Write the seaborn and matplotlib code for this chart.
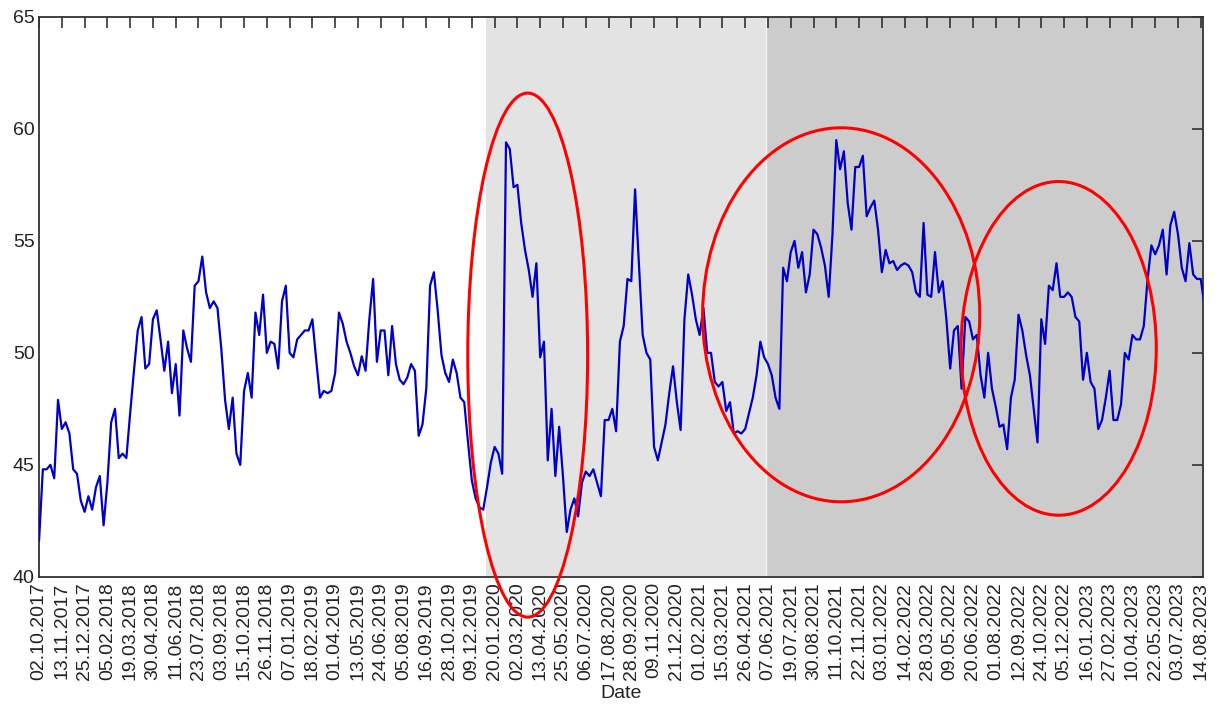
import numpy as np
import pandas as pd
import matplotlib
matplotlib.use("Agg")
import matplotlib.pyplot as plt
import matplotlib.dates as mdates
from matplotlib.patches import Ellipse
import seaborn as sns

# ---------------- data (weekly readings) ----------------
start_date = "2017-10-02"
values = [
    41.6, 44.8, 44.8, 45.0, 44.4, 47.9, 46.6, 46.9, 46.4, 44.8,
    44.6, 43.4, 42.9, 43.6, 43.0, 44.0, 44.5, 42.3, 44.2, 46.9,
    47.5, 45.3, 45.5, 45.3, 47.3, 49.2, 51.0, 51.6, 49.3, 49.5,
    51.5, 51.9, 50.6, 49.2, 50.5, 48.2, 49.5, 47.2, 51.0, 50.2,
    49.6, 53.0, 53.2, 54.3, 52.7, 52.0, 52.3, 52.0, 50.2, 47.9,
    46.6, 48.0, 45.5, 45.0, 48.3, 49.1, 48.0, 51.8, 50.8, 52.6,
    50.0, 50.5, 50.4, 49.3, 52.3, 53.0, 50.0, 49.8, 50.6, 50.8,
    51.0, 51.0, 51.5, 49.7, 48.0, 48.3, 48.2, 48.3, 49.1, 51.8,
    51.3, 50.5, 50.0, 49.4, 49.0, 49.85, 49.2, 51.5, 53.3, 49.6,
    51.0, 51.0, 49.0, 51.2, 49.5, 48.8, 48.6, 48.9, 49.5, 49.2,
    46.3, 46.8, 48.4, 53.0, 53.6, 51.9, 49.9, 49.1, 48.7, 49.7,
    49.1, 48.0, 47.8, 46.0, 44.3, 43.5, 43.1, 43.0, 44.0, 45.1,
    45.8, 45.5, 44.6, 59.4, 59.1, 57.4, 57.5, 55.8, 54.6, 53.7,
    52.5, 54.0, 49.8, 50.5, 45.2, 47.5, 44.5, 46.7, 44.5, 42.0,
    43.0, 43.5, 42.7, 44.2, 44.7, 44.5, 44.8, 44.2, 43.6, 47.0,
    47.0, 47.5, 46.5, 50.5, 51.2, 53.3, 53.2, 57.3, 54.0, 50.8,
    50.0, 49.7, 45.8, 45.2, 46.0, 46.8, 48.2, 49.4, 47.8, 46.55,
    51.5, 53.5, 52.6, 51.5, 50.8, 52.0, 50.0, 50.0, 48.7, 48.5,
    48.7, 47.4, 47.8, 46.4, 46.5, 46.4, 46.6, 47.3, 48.0, 49.0,
    50.5, 49.8, 49.5, 49.0, 48.0, 47.5, 53.8, 53.2, 54.5, 55.0,
    53.8, 54.5, 52.7, 53.5, 55.5, 55.3, 54.7, 53.9, 52.5, 55.3,
    59.5, 58.2, 59.0, 56.7, 55.5, 58.3, 58.3, 58.8, 56.1, 56.5,
    56.8, 55.5, 53.6, 54.6, 54.0, 54.1, 53.7, 53.9, 54.0, 53.9,
    53.6, 52.7, 52.5, 55.8, 52.6, 52.5, 54.5, 52.7, 53.2, 51.5,
    49.3, 51.0, 51.2, 48.4, 51.6, 51.4, 50.6, 50.8, 49.0, 48.0,
    50.0, 48.4, 47.6, 46.7, 46.8, 45.7, 48.0, 48.8, 51.7, 51.0,
    49.9, 49.0, 47.5, 46.0, 51.5, 50.4, 53.0, 52.8, 54.0, 52.5,
    52.5, 52.7, 52.5, 51.6, 51.4, 48.8, 50.0, 48.7, 48.4, 46.6,
    47.0, 48.0, 49.2, 47.0, 47.0, 47.7, 50.0, 49.7, 50.8, 50.6,
    50.6, 51.2, 53.3, 54.8, 54.4, 54.8, 55.5, 53.5, 55.7, 56.3,
    55.3, 53.8, 53.2, 54.9, 53.5, 53.3, 53.3, 52.1,
]

# shaded periods
period_starts = ["2020-01-04", "2021-06-03"]
period_ends = ["2021-06-03", "2023-08-18"]
period_colors = ["#e3e3e3", "#cccccc"]

# highlighted regions (center date, center value, width days, height)
ell_centers = ["2020-03-21", "2021-10-20", "2022-11-25"]
ell_values = [49.9, 51.7, 50.2]
ell_widths = [221, 511, 360]
ell_heights = [23.4, 16.7, 14.9]

x_start = "2017-10-02"
x_end = "2023-08-18"
tick_step_days = 42
y_ticks = [40, 45, 50, 55, 60, 65]

# ---------------- plot ----------------
sns.set_style("white")
plt.rcParams["font.family"] = ["Liberation Sans", "DejaVu Sans"]

df = pd.DataFrame({
    "Date": pd.date_range(start_date, periods=len(values), freq="7D"),
    "Value": values,
})

fig = plt.figure(figsize=(12.2, 7.06), dpi=100)
ax = fig.add_axes([0.032, 0.183, 0.954, 0.793])

for s, e, c in zip(period_starts, period_ends, period_colors):
    ax.axvspan(pd.Timestamp(s), pd.Timestamp(e), color=c, lw=0, zorder=0)
ax.axvline(pd.Timestamp(period_starts[1]), color="white", lw=1, alpha=0.8, zorder=0.5)

sns.lineplot(data=df, x="Date", y="Value", ax=ax, color="#0000c8", lw=1.6, zorder=3)

for c, v, w, h in zip(ell_centers, ell_values, ell_widths, ell_heights):
    e = Ellipse((mdates.date2num(pd.Timestamp(c)), v), w, h, fill=False,
                edgecolor="#ff0000", lw=2.2, clip_on=False, zorder=4)
    ax.add_patch(e)

ax.set_xlim(pd.Timestamp(x_start), pd.Timestamp(x_end))
ax.set_ylim(40, 65)
ticks = pd.date_range(x_start, "2023-08-14", freq=f"{tick_step_days}D")
ax.set_xticks(ticks)
ax.set_xticklabels([t.strftime("%d.%m.%Y") for t in ticks], rotation=90, fontsize=14)
ax.set_yticks(y_ticks)
ax.set_yticklabels([str(t) for t in y_ticks], fontsize=14)
ax.tick_params(axis="both", direction="in", length=8, width=1.1, color="#222222",
               top=True, right=True, labelcolor="#222222")
ax.tick_params(axis="x", pad=4)
ax.tick_params(axis="y", pad=3)
for sp in ax.spines.values():
    sp.set_visible(True)
    sp.set_color("#333333")
    sp.set_linewidth(1.3)
ax.set_xlabel("Date", fontsize=14, color="#222222")
ax.xaxis.set_label_coords(0.5, -0.208)
ax.xaxis.label.set_va("center")
ax.set_ylabel("")

fig.savefig("out.png", dpi=100)
